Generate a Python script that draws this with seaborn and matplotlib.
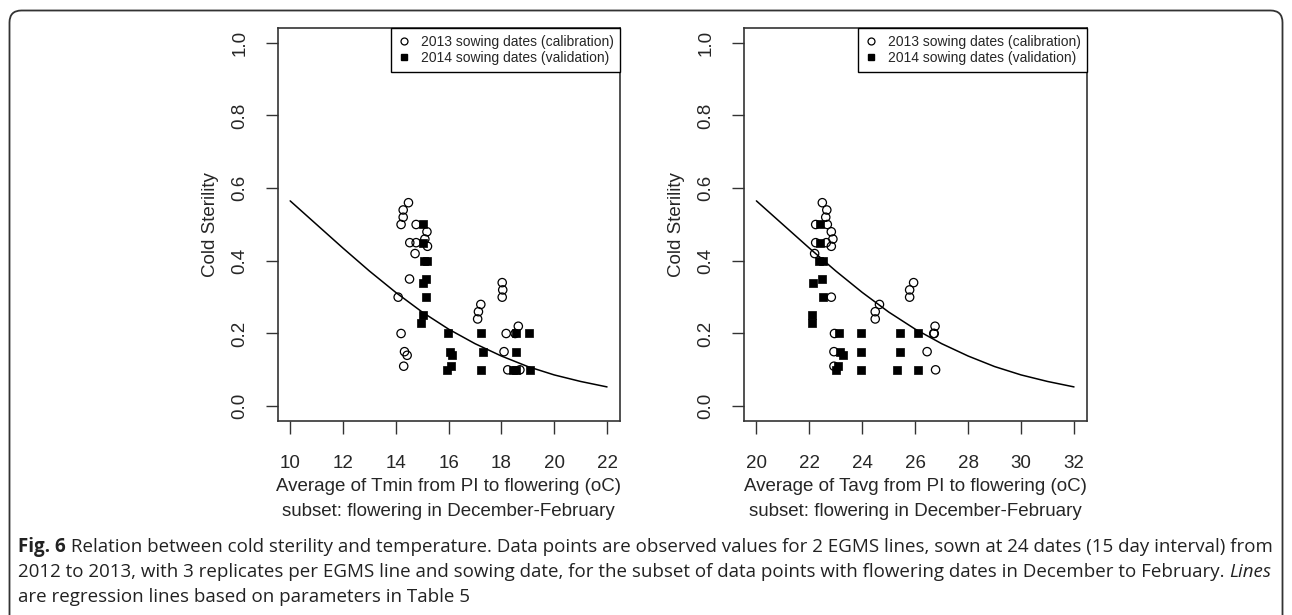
import numpy as np
import pandas as pd
import seaborn as sns
import matplotlib.pyplot as plt
from matplotlib.lines import Line2D
from matplotlib.patches import FancyBboxPatch
from matplotlib.transforms import IdentityTransform

# values
# left panel: Tmin
tmin_2013_x = [14.48, 14.28, 14.28, 14.2, 14.77, 15.18, 14.53, 14.77, 15.1, 15.2, 14.73, 14.52,
               14.09, 14.2, 14.33, 14.43, 14.3, 18.03, 18.05, 18.03, 17.22, 17.13, 17.1, 18.18,
               18.1, 18.24, 18.64, 18.52, 18.7]
tmin_2013_y = [0.56, 0.54, 0.52, 0.50, 0.50, 0.48, 0.45, 0.45, 0.46, 0.44, 0.42, 0.35,
               0.30, 0.20, 0.15, 0.14, 0.11, 0.34, 0.32, 0.30, 0.28, 0.26, 0.24, 0.20,
               0.15, 0.10, 0.22, 0.20, 0.10]
tmin_2014_x = [15.03, 15.03, 15.05, 15.2, 15.16, 15.02, 15.13, 15.03, 14.96, 15.99, 16.04, 16.13,
               16.09, 15.93, 17.21, 17.31, 17.21, 18.54, 19.06, 18.54, 18.45, 18.56, 19.08]
tmin_2014_y = [0.50, 0.45, 0.40, 0.40, 0.35, 0.34, 0.30, 0.25, 0.23, 0.20, 0.15, 0.14,
               0.11, 0.10, 0.20, 0.15, 0.10, 0.20, 0.20, 0.15, 0.10, 0.10, 0.10]
tmin_line_x = [10, 11, 12, 13, 14, 15, 16, 17, 18, 19, 20, 21, 22]
tmin_line_y = [0.565, 0.500, 0.435, 0.372, 0.313, 0.259, 0.212, 0.172, 0.138, 0.109, 0.086, 0.068, 0.053]

# right panel: Tavg
tavg_2013_x = [22.49, 22.66, 22.62, 22.68, 22.24, 22.83, 22.89, 22.83, 22.24, 22.64, 22.2, 22.83,
               22.95, 22.93, 22.93, 25.94, 25.79, 25.79, 24.65, 24.49, 24.49, 26.75, 26.7, 26.72,
               26.45, 26.77]
tavg_2013_y = [0.56, 0.54, 0.52, 0.50, 0.50, 0.48, 0.46, 0.44, 0.45, 0.45, 0.42, 0.30,
               0.20, 0.15, 0.11, 0.34, 0.32, 0.30, 0.28, 0.26, 0.24, 0.22, 0.20, 0.20,
               0.15, 0.10]
tavg_2014_x = [22.39, 22.39, 22.38, 22.5, 22.49, 22.14, 22.51, 22.11, 22.11, 23.12, 23.14, 23.27,
               23.08, 23.02, 23.94, 23.96, 23.94, 25.41, 25.41, 25.3, 26.1, 26.1]
tavg_2014_y = [0.50, 0.45, 0.40, 0.40, 0.35, 0.34, 0.30, 0.25, 0.23, 0.20, 0.15, 0.14,
               0.11, 0.10, 0.20, 0.15, 0.10, 0.20, 0.15, 0.10, 0.20, 0.10]
tavg_line_x = [20, 21, 22, 23, 24, 25, 26, 27, 28, 29, 30, 31, 32]
tavg_line_y = [0.565, 0.500, 0.435, 0.372, 0.313, 0.259, 0.212, 0.172, 0.138, 0.109, 0.086, 0.068, 0.053]

legend_labels = ["2013 sowing dates (calibration)", "2014 sowing dates (validation)"]
y_ticks = [0.0, 0.2, 0.4, 0.6, 0.8, 1.0]

sns.set_theme(style="white")
plt.rcParams['font.family'] = ['Liberation Sans', 'DejaVu Sans']

W, H = 1292, 615
fig = plt.figure(figsize=(W / 100, H / 100), dpi=100)
ax1 = fig.add_axes([277.5 / W, 194.3 / H, 342.2 / W, 392.4 / H])
ax2 = fig.add_axes([743.7 / W, 194.3 / H, 343.0 / W, 392.4 / H])


def panel(ax, cx, cy, sx, sy, lx, ly, xticks, xlabel):
    sns.lineplot(x=lx, y=ly, ax=ax, color='black', linewidth=1.1)
    sns.scatterplot(x=cx, y=cy, ax=ax, marker='o', s=36, facecolor='none',
                    edgecolor='black', linewidth=0.9)
    sns.scatterplot(x=sx, y=sy, ax=ax, marker='s', s=40, color='black',
                    edgecolor='black', linewidth=0.5)
    pad = (xticks[-1] - xticks[0]) * 0.04
    ax.set_xlim(xticks[0] - pad, xticks[-1] + pad)
    ax.set_ylim(-0.04, 1.04)
    ax.set_xticks(xticks)
    ax.set_xticklabels([str(t) for t in xticks], fontsize=13.5)
    ax.set_yticks(y_ticks)
    ax.set_yticklabels(["%.1f" % t for t in y_ticks], rotation=90, va='center', fontsize=13.5)
    ax.tick_params(axis='both', direction='out', length=9, width=1, color='#333333',
                   left=True, bottom=True)
    ax.tick_params(axis='x', pad=16)
    ax.tick_params(axis='y', pad=12)
    for sp in ax.spines.values():
        sp.set_color('#333333')
        sp.set_linewidth(1.2)
    ax.set_xlabel(xlabel, fontsize=13.5, linespacing=1.6, labelpad=4)
    ax.set_ylabel("Cold Sterility", fontsize=13.5, labelpad=9)
    handles = [Line2D([], [], marker='o', ls='', markerfacecolor='none', markeredgecolor='black',
                      markersize=5, markeredgewidth=0.9),
               Line2D([], [], marker='s', ls='', color='black', markersize=5)]
    leg = ax.legend(handles, legend_labels, loc='upper right', borderaxespad=0, fontsize=10,
                    frameon=True, fancybox=False, framealpha=1, handlelength=1.0,
                    handletextpad=0.7, borderpad=0.45, labelspacing=0.2)
    leg.get_frame().set_edgecolor('black')
    leg.get_frame().set_linewidth(1.0)


panel(ax1, tmin_2013_x, tmin_2013_y, tmin_2014_x, tmin_2014_y, tmin_line_x, tmin_line_y,
      [10, 12, 14, 16, 18, 20, 22],
      "Average of Tmin from PI to flowering (oC)\nsubset: flowering in December-February")
panel(ax2, tavg_2013_x, tavg_2013_y, tavg_2014_x, tavg_2014_y, tavg_line_x, tavg_line_y,
      [20, 22, 24, 26, 28, 30, 32],
      "Average of Tavg from PI to flowering (oC)\nsubset: flowering in December-February")

# outer rounded frame
frame = FancyBboxPatch((9.5, -30), 1273, 634.5, boxstyle="round,pad=0,rounding_size=12",
                       transform=IdentityTransform(), facecolor='none', edgecolor='#333333',
                       linewidth=1.3)
fig.patches.append(frame)

# caption
renderer = fig.canvas.get_renderer()
cap_font = ['Open Sans', 'DejaVu Sans']
cap_size = 13.5


def caption_line(y_px, parts):
    x_px = 18
    for txt, weight, style in parts:
        t = fig.text(x_px / W, 1 - y_px / H, txt, fontsize=cap_size, family=cap_font,
                     weight=weight, style=style, va='center', ha='left', color='#222222')
        x_px += t.get_window_extent(renderer).width


caption_line(547, [("Fig. 6", 'bold', 'normal'),
                   (" Relation between cold sterility and temperature. Data points are observed values "
                    "for 2 EGMS lines, sown at 24 dates (15 day interval) from", 'normal', 'normal')])
caption_line(572, [("2012 to 2013, with 3 replicates per EGMS line and sowing date, for the subset of data "
                    "points with flowering dates in December to February. ", 'normal', 'normal'),
                   ("Lines", 'normal', 'italic')])
caption_line(597, [("are regression lines based on parameters in Table 5", 'normal', 'normal')])

fig.savefig("out.png", dpi=100)
